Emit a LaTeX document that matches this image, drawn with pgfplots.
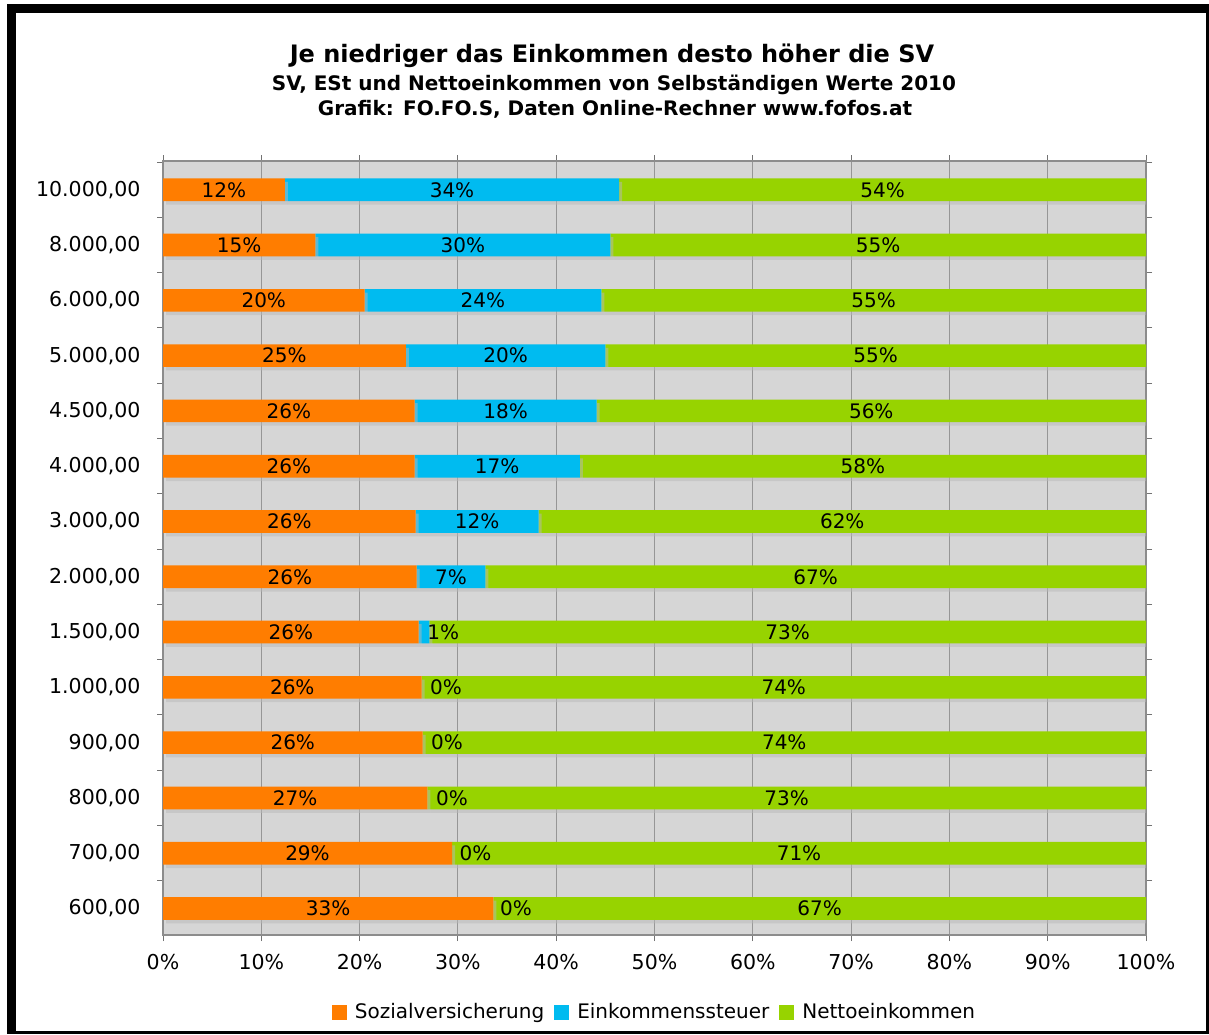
\documentclass[border=0pt]{standalone}
\usepackage{fontspec}
\setmainfont{DejaVu Sans}
\usepackage{pgfplots}
\pgfplotsset{compat=1.18}
\usepackage{pgfplotstable}
\usetikzlibrary{shadows}

\definecolor{cSV}{RGB}{255,125,0}
\definecolor{cESt}{RGB}{0,187,240}
\definecolor{cNet}{RGB}{151,211,0}
\definecolor{bggray}{RGB}{214,214,214}
\definecolor{gridgray}{RGB}{150,150,150}
\definecolor{shadowgray}{RGB}{185,185,185}

% y = row index (0 = 10.000,00 at top)
\pgfplotstableread{
y sv est net
0 12.4 34.0 53.6
1 15.5 30.0 54.5
2 20.5 24.1 55.4
3 24.7 20.3 55.0
4 25.6 18.5 55.9
5 25.6 16.8 57.6
6 25.7 12.5 61.8
7 25.8 7.0 67.2
8 26.0 1.1 72.9
9 26.3 0.0 73.7
10 26.4 0.0 73.6
11 26.9 0.0 73.1
12 29.4 0.0 70.6
13 33.6 0.0 66.4
}\data

% label positions (x = centre of the text) and values
\pgfplotstableread{
x y l
6.2 0 12
29.4 0 34
73.2 0 54
7.75 1 15
30.5 1 30
72.75 1 55
10.25 2 20
32.55 2 24
72.3 2 55
12.35 3 25
34.85 3 20
72.5 3 55
12.8 4 26
34.85 4 18
72.05 4 56
12.8 5 26
34.0 5 17
71.2 5 58
12.85 6 26
31.95 6 12
69.1 6 62
12.9 7 26
29.3 7 7
66.4 7 67
13.0 8 26
28.5 8 1
63.55 8 73
13.15 9 26
28.8 9 0
63.15 9 74
13.2 10 26
28.9 10 0
63.2 10 74
13.45 11 27
29.4 11 0
63.45 11 73
14.7 12 29
31.8 12 0
64.7 12 71
16.8 13 33
35.9 13 0
66.8 13 67
}\labels

\newcommand{\lblfont}{\fontsize{20}{23}\selectfont}
\newcommand{\tickfont}{\fontsize{20.5}{23}\selectfont}

\begin{document}
\begin{tikzpicture}[x=1pt,y=1pt]
\path[use as bounding box] (0,0) rectangle (1209,-1034);
% frame
\fill[black] (7,-4) rectangle (1209,-1034);
\fill[white] (16,-13) rectangle (1205.5,-1030.5);

% titles
\node[anchor=base, font=\bfseries\fontsize{24}{28}\selectfont] at (612,-62.5) {Je niedriger das Einkommen desto höher die SV};
\node[anchor=base, font=\bfseries\fontsize{20}{23}\selectfont] at (614,-90) {SV, ESt und Nettoeinkommen von Selbständigen Werte 2010};
\node[anchor=base, font=\bfseries\fontsize{20}{23}\selectfont] at (615,-115) {Grafik: FO.FO.S, Daten Online-Rechner www.fofos.at};

\begin{axis}[
  at={(163pt,-935pt)}, anchor=south west,
  scale only axis, width=983pt, height=774pt,
  xbar stacked, bar width=0.41,
  xmin=0, xmax=100, ymin=-0.52, ymax=13.48, y dir=reverse,
  axis background/.style={fill=bggray},
  axis line style={draw=black!45, line width=1.3pt},
  xtick={0,10,...,100},
  xticklabels={0\%,10\%,20\%,30\%,40\%,50\%,60\%,70\%,80\%,90\%,100\%},
  ytick={-0.5,0.5,...,13.5},
  yticklabels={{10.000,00},{8.000,00},{6.000,00},{5.000,00},{4.500,00},{4.000,00},{3.000,00},{2.000,00},{1.500,00},{1.000,00},{900,00},{800,00},{700,00},{600,00},{}},
  yticklabel style={font=\tickfont, anchor=east, yshift=-27.64pt, xshift=-13pt},
  xticklabel style={font=\tickfont, yshift=-10pt},
  tick align=outside, major tick length=6pt,
  tick style={draw=black!55, line width=1pt},
  xmajorgrids=true, ymajorgrids=false,
  major grid style={draw=gridgray, line width=1pt},
  /pgf/number format/assume math mode=true,
  legend style={at={(0.5,-0.0995)}, anchor=center, draw=none, fill=none,
    legend columns=-1, font=\lblfont,
    /tikz/every odd column/.append style={column sep=6pt},
    /tikz/every even column/.append style={column sep=8pt}},
  legend image code/.code={\fill[#1] (0pt,-7.5pt) rectangle (15pt,7.5pt);},
  clip=true,
]
\addplot[forget plot, fill=cSV, draw=none, drop shadow={shadow xshift=3pt, shadow yshift=-3.5pt, fill=shadowgray}] table[x=sv, y=y] {\data};
\addplot[forget plot, fill=cESt, draw=none, drop shadow={shadow xshift=3pt, shadow yshift=-3.5pt, fill=shadowgray}] table[x=est, y=y] {\data};
\addplot[forget plot, fill=cNet, draw=none, drop shadow={shadow xshift=3pt, shadow yshift=-3.5pt, fill=shadowgray}] table[x=net, y=y] {\data};
\addlegendimage{fill=cSV, draw=none}
\addlegendentry{Sozialversicherung}
\addlegendimage{fill=cESt, draw=none}
\addlegendentry{Einkommenssteuer}
\addlegendimage{fill=cNet, draw=none}
\addlegendentry{Nettoeinkommen}
\end{axis}

% overlay axis with the same geometry for the value labels
\begin{axis}[
  at={(163pt,-935pt)}, anchor=south west,
  scale only axis, width=983pt, height=774pt,
  xmin=0, xmax=100, ymin=-0.52, ymax=13.48, y dir=reverse,
  hide axis, clip=false,
]
\addplot[draw=none, mark=none,
  point meta=explicit symbolic,
  nodes near coords={\pgfplotspointmeta\%},
  every node near coord/.append style={font=\lblfont, text=black, anchor=center, inner sep=0pt}]
  table[x=x, y=y, meta=l] {\labels};
\end{axis}
\end{tikzpicture}
\end{document}
